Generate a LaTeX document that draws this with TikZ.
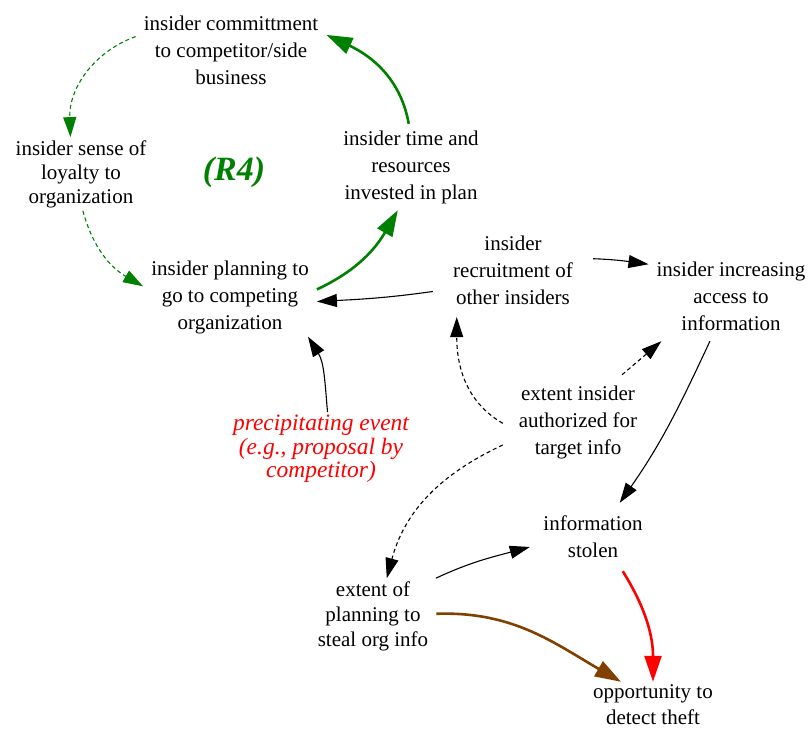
\documentclass[tikz,border=0pt]{standalone}
\usepackage{fontspec}
\setmainfont{Liberation Serif}
\usetikzlibrary{arrows.meta}
\tikzset{var/.style = {align=center, inner xsep=8pt, inner ysep=3pt,
                       font=\fontsize{21}{27}\selectfont},
         lnk/.style = {-{Triangle[length=20pt,width=13pt]}, line width=1.1pt},
         dlnk/.style = {lnk, dash pattern=on 4pt off 3pt},
         heavy/.style = {-{Triangle[length=26pt,width=17pt]}, line width=2.6pt}}
\definecolor{lgreen}{rgb}{0, 0.5, 0}
\definecolor{lbrown}{rgb}{0.5, 0.25, 0}

\begin{document}
\begin{tikzpicture}[x=1pt, y=-1pt]
    \useasboundingbox (0, 0) rectangle (811, 730);

    \node [var] (commit) at (231, 50) {insider committment\\to competitor/side\\business};
    \node [var, font=\fontsize{21}{24}\selectfont] (loyalty) at (81, 174) {insider sense of\\loyalty to\\organization};
    \node [var, minimum height=86] (timeres) at (411, 167) {insider time and\\resources\\invested in plan};
    \node [lgreen, font=\fontsize{34}{34}\selectfont\bfseries\itshape] (r4) at (234, 172) {(R4)};
    \node [var] (planning) at (230, 297) {insider planning to\\go to competing\\organization};
    \node [var, minimum width=160, minimum height=94] (recruit) at (513, 270) {insider\\recruitment of\\other insiders};
    \node [var, minimum height=90] (access) at (731, 296) {insider increasing\\access to\\information};
    \node [var, red, font=\fontsize{23.5}{23.5}\selectfont\itshape] (precip) at (321, 449) {precipitating event\\(e.g., proposal by\\competitor)};
    \node [var, minimum width=150, minimum height=94] (auth) at (578, 422) {extent insider\\authorized for\\target info};
    \node [var, minimum width=126, minimum height=68] (stolen) at (593, 537) {information\\stolen};
    \node [var, font=\fontsize{21}{25}\selectfont] (steal) at (373, 616) {extent of\\planning to\\steal org info};
    \node [var, font=\fontsize{21}{26}\selectfont] (detect) at (653, 705) {opportunity to\\detect theft};

    % reinforcing loop
    \draw [dlnk, lgreen] (commit.172) to [out=200, in=92] (loyalty.106);
    \draw [dlnk, lgreen] (loyalty.-87) to [out=-75, in=150] (planning.173);
    \draw [heavy, lgreen] (planning.5) to [out=25, in=-120] (timeres.253);
    \draw [heavy, lgreen] (timeres.93) to [out=100, in=-25] (commit.9);

    \draw [lnk] (recruit.195) to [out=188, in=3] (planning.-3);
    \draw [lnk] (recruit.8) to [out=-2, in=172] (access.159);
    \draw [lnk] (precip.80) to [out=95, in=-58] (planning.-27);
    \draw [dlnk] (auth.181) to [out=150, in=-90] (recruit.220);
    \draw [dlnk] (auth.47) -- (access.213);
    \draw [lnk] (access.-115) to [out=-115, in=55] (stolen.52);
    \draw [dlnk] (auth.197) to [out=205, in=75] (steal.70);
    \draw [lnk] (steal.31) to [out=25, in=195] (stolen.189);
    \draw [heavy, lbrown] (steal.2) to [out=2, in=150] (detect.144);
    \draw [heavy, red] (stolen.-49) to [out=-58, in=90] (detect.90);
\end{tikzpicture}
\end{document}
